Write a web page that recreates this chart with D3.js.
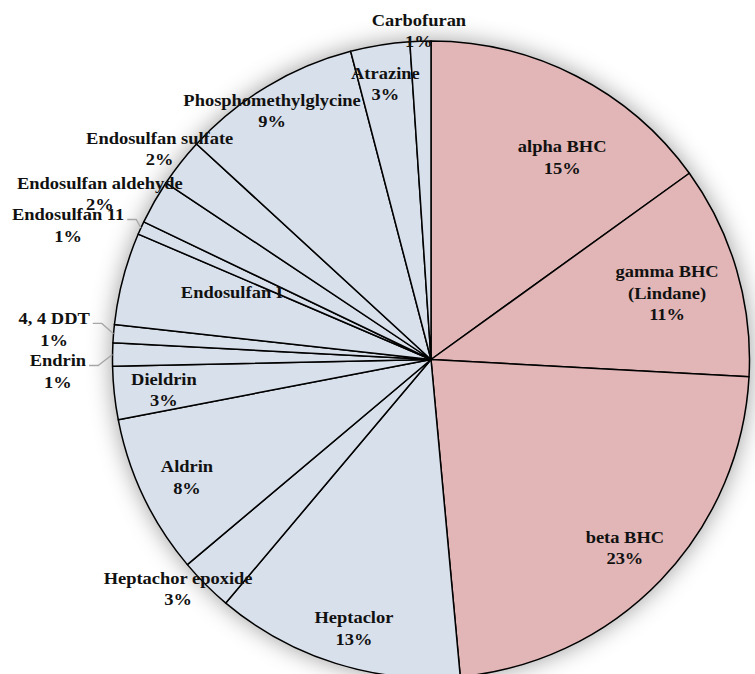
<!DOCTYPE html>
<html><head><meta charset="utf-8">
<script src="https://cdn.jsdelivr.net/npm/d3@7"></script>
<style>html,body{margin:0;padding:0;background:#fff;}svg{display:block;}</style>
</head><body>
<svg id="chart" width="755" height="674"></svg>
<script>
// ---- data ----
const categories = ["alpha BHC","gamma BHC (Lindane)","beta BHC","Heptaclor","Heptachor epoxide","Aldrin","Dieldrin","Endrin","4, 4 DDT","Endosulfan I","Endosulfan 11","Endosulfan aldehyde","Endosulfan sulfate","Phosphomethylglycine","Atrazine","Carbofuran"];
const values = [15.06,10.81,22.67,12.61,2.72,8.11,2.69,1.17,0.92,4.69,0.67,2.25,2.47,9.11,3.00,1.06];
const groups = ["BHC","BHC","BHC","other","other","other","other","other","other","other","other","other","other","other","other","other"];
const labelLines = [["alpha BHC"],["gamma BHC","(Lindane)"],["beta BHC"],["Heptaclor"],["Heptachor epoxide"],["Aldrin"],["Dieldrin"],["Endrin"],["4, 4 DDT"],["Endosulfan I"],["Endosulfan 11"],["Endosulfan aldehyde"],["Endosulfan sulfate"],["Phosphomethylglycine"],["Atrazine"],["Carbofuran"]];
const showPct = [true,true,true,true,true,true,true,true,true,false,true,true,true,true,true,true];

// ---- layout (label placement in polar form: angle deg, radius fraction) ----
const labelPolar = [[33.0,0.756],[74.3,0.770],[134.2,0.849],[196.0,0.878],[227.8,1.072],[244.2,0.851],[263.5,0.844],[268.2,1.172],[274.6,1.187],[288.7,0.66],[290.3,1.215],[296.6,1.163],[307.8,1.078],[327.4,0.926],[350.6,0.877],[357.9,1.032]];
const leaderFor = ["Endrin","4, 4 DDT","Endosulfan 11"];

const W = 755, H = 674;
const cx = 431, cy = 359.5, R = 318.5;
const colors = {BHC:"#e2b6b6", other:"#d8e0eb"};
const fontSize = 16.5, lineH = 21.5, xStretch = 1.12;

const svg = d3.select("#chart");
const defs = svg.append("defs");
const f = defs.append("filter").attr("id","shadow").attr("x","-25%").attr("y","-25%").attr("width","150%").attr("height","150%");
f.append("feGaussianBlur").attr("in","SourceAlpha").attr("stdDeviation",12).attr("result","b");
f.append("feFlood").attr("flood-color","#000").attr("flood-opacity",0.4).attr("result","c");
f.append("feComposite").attr("in","c").attr("in2","b").attr("operator","in");

const g = svg.append("g").attr("transform",`translate(${cx},${cy})`);
g.append("circle").attr("r",R).attr("fill","#888").attr("filter","url(#shadow)");

const pie = d3.pie().sort(null).value(d=>d.v);
const data = categories.map((c,i)=>({c, v:values[i], grp:groups[i], i}));
const arcs = pie(data);
const arc = d3.arc().innerRadius(0).outerRadius(R);

g.selectAll("path.slice").data(arcs).join("path")
  .attr("class","slice")
  .attr("d",arc)
  .attr("fill",d=>colors[d.data.grp])
  .attr("stroke","#000").attr("stroke-width",1.5).attr("stroke-linejoin","round");

const pctFmt = v => Math.round(v) + "%";
const lab = g.append("g").attr("font-family","'Liberation Serif','Times New Roman',serif")
  .attr("font-weight","bold").attr("font-size",fontSize).attr("fill","#111");

arcs.forEach((d,i)=>{
  const [ang, rf] = labelPolar[i];
  const a = ang*Math.PI/180;
  const x = Math.sin(a)*rf*R, y = -Math.cos(a)*rf*R;
  const lines = labelLines[i].slice();
  if (showPct[i]) lines.push(pctFmt(values[i]));
  const n = lines.length;
  const tg = lab.append("g").attr("transform",`translate(${x},${y}) scale(${xStretch},1)`);
  lines.forEach((t,k)=>{
    tg.append("text").attr("text-anchor","middle").attr("dominant-baseline","central")
      .attr("y",(k-(n-1)/2)*lineH).text(t);
  });
  if (leaderFor.includes(categories[i])) {
    const first = tg.select("text").node();
    const w = first.getComputedTextLength()*xStretch;
    const y1 = y - (n-1)/2*lineH + 5;
    const x0 = x + w/2 + 3;
    const x1 = x0 + 9;
    const mid = (d.startAngle+d.endAngle)/2;
    const ex = Math.sin(mid)*R, ey = -Math.cos(mid)*R;
    g.append("polyline").attr("points",`${x0},${y1} ${x1},${y1} ${ex},${ey}`)
      .attr("fill","none").attr("stroke","#a6a6a6").attr("stroke-width",1.3);
  }
});
</script>
</body></html>
